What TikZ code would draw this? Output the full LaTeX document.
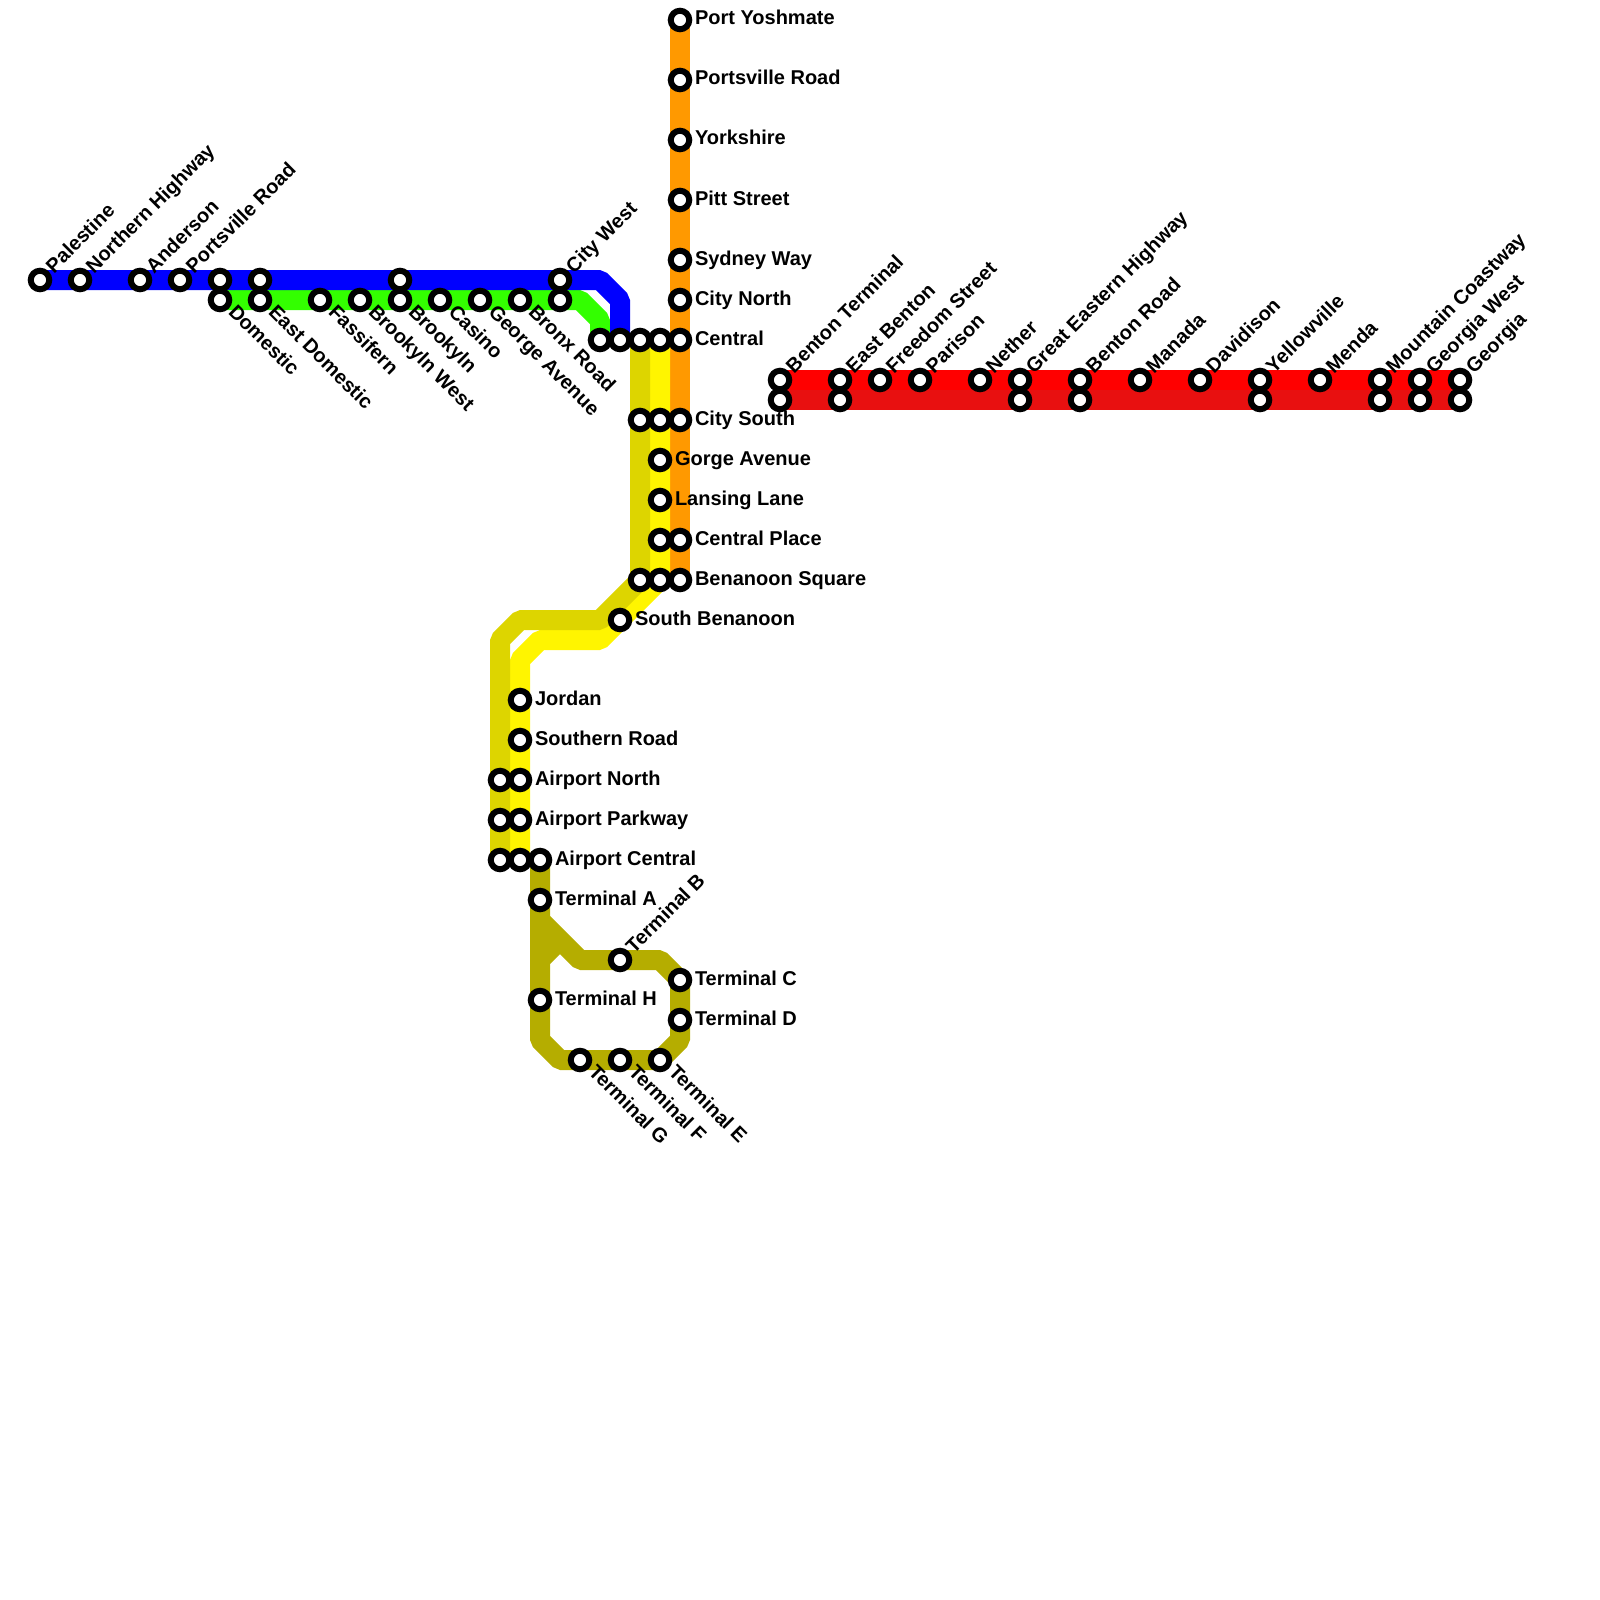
\documentclass[tikz,border=0pt]{standalone}
\usepackage{fontspec}
\setmainfont{Liberation Sans}
\usetikzlibrary{backgrounds}
\definecolor{lnblue}{HTML}{0000FF}
\definecolor{lngreen}{HTML}{33FF00}
\definecolor{lnorange}{HTML}{FF9900}
\definecolor{lnyellow}{HTML}{FFF500}
\definecolor{lndark}{HTML}{DDD500}
\definecolor{lnolive}{HTML}{B5AD00}
\definecolor{lnred}{HTML}{FF0000}
\definecolor{lnredb}{HTML}{E81010}
\pgfdeclarelayer{lines}
\pgfdeclarelayer{labels}
\pgfsetlayers{lines,main,labels}
\tikzset{
  x=1pt,y=-1pt,
  stn/.style={circle,draw=black,fill=white,line width=6pt,minimum size=18.5pt,inner sep=0pt,outer sep=0pt},
  lbl/.style={font=\bfseries\fontsize{20pt}{22pt}\selectfont,inner sep=0pt,outer sep=0pt,anchor=base west,text=black},
  lblE/.style={lbl},
  lblNE/.style={lbl,rotate=45},
  lblSE/.style={lbl,rotate=-45},
  metro/.style={line width=20pt,line join=bevel,line cap=butt},
}
\newcommand{\stnE}[4]{\node[stn] (#1) at (#2,#3) {};\begin{pgfonlayer}{labels}\node[lblE] (#1t) at ([xshift=15pt,yshift=-5pt]#1.center) {#4};\end{pgfonlayer}}
\newcommand{\stnNE}[4]{\node[stn] (#1) at (#2,#3) {};\begin{pgfonlayer}{labels}\node[lblNE] (#1t) at ([xshift=14pt,yshift=6pt]#1.center) {#4};\end{pgfonlayer}}
\newcommand{\stnSE}[4]{\node[stn] (#1) at (#2,#3) {};\begin{pgfonlayer}{labels}\node[lblSE] (#1t) at ([xshift=7.5pt,yshift=-13pt]#1.center) {#4};\end{pgfonlayer}}
\newcommand{\stnN}[3]{\node[stn] (#1) at (#2,#3) {};}
\begin{document}
\begin{tikzpicture}
\useasboundingbox (0,0) rectangle (1600,1600);
% blue
\stnNE{palestine}{40}{280}{Palestine}
\stnNE{northern}{80}{280}{Northern Highway}
\stnNE{anderson}{140}{280}{Anderson}
\stnNE{portsville}{180}{280}{Portsville Road}
\stnN{domA}{220}{280}
\stnN{edomA}{260}{280}
\stnN{brookA}{400}{280}
\stnNE{citywest}{560}{280}{City West}
% green
\stnSE{domestic}{220}{300}{Domestic}
\stnSE{edomestic}{260}{300}{East Domestic}
\stnSE{fassifern}{320}{300}{Fassifern}
\stnSE{brookwest}{360}{300}{Brookyln West}
\stnSE{brooklyn}{400}{300}{Brookyln}
\stnSE{casino}{440}{300}{Casino}
\stnSE{george}{480}{300}{George Avenue}
\stnSE{bronx}{520}{300}{Bronx Road}
\stnN{citywestB}{560}{300}
% central row
\stnN{cgreen}{600}{340}
\stnN{cblue}{620}{340}
\stnN{cdark}{640}{340}
\stnN{cyellow}{660}{340}
% orange
\stnE{yoshmate}{680}{20}{Port Yoshmate}
\stnE{portsvilleR}{680}{80}{Portsville Road}
\stnE{yorkshire}{680}{140}{Yorkshire}
\stnE{pitt}{680}{200}{Pitt Street}
\stnE{sydney}{680}{260}{Sydney Way}
\stnE{citynorth}{680}{300}{City North}
\stnE{central}{680}{340}{Central}
\stnE{citysouth}{680}{420}{City South}
\stnE{centralpl}{680}{540}{Central Place}
\stnE{benanoon}{680}{580}{Benanoon Square}
% yellow column
\stnN{csdark}{640}{420}
\stnN{csyellow}{660}{420}
\stnE{gorge}{660}{460}{Gorge Avenue}
\stnE{lansing}{660}{500}{Lansing Lane}
\stnN{cpyellow}{660}{540}
\stnN{bdark}{640}{580}
\stnN{byellow}{660}{580}
\stnE{southben}{620}{620}{South Benanoon}
% airport
\stnE{jordan}{520}{700}{Jordan}
\stnE{southern}{520}{740}{Southern Road}
\stnN{andark}{500}{780}
\stnE{airnorth}{520}{780}{Airport North}
\stnN{apdark}{500}{820}
\stnE{airpark}{520}{820}{Airport Parkway}
\stnN{acdark}{500}{860}
\stnN{acyellow}{520}{860}
\stnE{aircentral}{540}{860}{Airport Central}
\stnE{terma}{540}{900}{Terminal A}
\stnNE{termb}{620}{960}{Terminal B}
\stnE{termc}{680}{980}{Terminal C}
\stnE{termd}{680}{1020}{Terminal D}
\stnSE{terme}{660}{1060}{Terminal E}
\stnSE{termf}{620}{1060}{Terminal F}
\stnSE{termg}{580}{1060}{Terminal G}
\stnE{termh}{540}{1000}{Terminal H}
% red
\stnNE{bentonT}{780}{380}{Benton Terminal}
\stnN{bentonTb}{780}{400}
\stnNE{eastbenton}{840}{380}{East Benton}
\stnN{eastbentonb}{840}{400}
\stnNE{freedom}{880}{380}{Freedom Street}
\stnNE{parison}{920}{380}{Parison}
\stnNE{nether}{980}{380}{Nether}
\stnNE{greateast}{1020}{380}{Great Eastern Highway}
\stnN{greateastb}{1020}{400}
\stnNE{bentonR}{1080}{380}{Benton Road}
\stnN{bentonRb}{1080}{400}
\stnNE{manada}{1140}{380}{Manada}
\stnNE{davidson}{1200}{380}{Davidison}
\stnNE{yellowville}{1260}{380}{Yellowville}
\stnN{yellowvilleb}{1260}{400}
\stnNE{menda}{1320}{380}{Menda}
\stnNE{mountain}{1380}{380}{Mountain Coastway}
\stnN{mountainb}{1380}{400}
\stnNE{georgiaW}{1420}{380}{Georgia West}
\stnN{georgiaWb}{1420}{400}
\stnNE{georgia}{1460}{380}{Georgia}
\stnN{georgiab}{1460}{400}
% bend points
\coordinate (b1) at (600,280);
\coordinate (b2) at (620,300);
\coordinate (g1) at (580,300);
\coordinate (g2) at (600,320);
\coordinate (d2) at (600,620);
\coordinate (d3) at (520,620);
\coordinate (d4) at (500,640);
\coordinate (y1) at (600,640);
\coordinate (y2) at (540,640);
\coordinate (y3) at (520,660);
\coordinate (o1) at (540,920);
\coordinate (o2) at (580,960);
\coordinate (o3) at (660,960);
\coordinate (o4) at (680,1040);
\coordinate (o5) at (560,1060);
\coordinate (o6) at (540,1040);
\coordinate (o7) at (540,960);
\coordinate (o8) at (560,940);
\begin{pgfonlayer}{lines}
\draw[metro,lngreen] (domestic.center) -- (g1) -- (g2) -- (cgreen.center);
\draw[metro,lnblue] (palestine.center) -- (b1) -- (b2) -- (cblue.center);
\draw[metro,lnorange] (yoshmate.center) -- (benanoon.center);
\draw[metro,lnyellow] (cyellow.center) -- (byellow.center) -- (y1) -- (y2) -- (y3) -- (acyellow.center);
\draw[metro,lndark] (cdark.center) -- (bdark.center) -- (d2) -- (d3) -- (d4) -- (acdark.center);
\draw[metro,lnolive] (aircentral.center) -- (o1) -- (o2) -- (o3) -- (termc.center) -- (o4) -- (terme.center) -- (o5) -- (o6) -- (o7) -- (o8);
\draw[metro,lnolive] (aircentral.center) -- (terma.center) -- (termh.center) -- (o6);
\draw[metro,lnred] (bentonT.center) -- (georgia.center);
\draw[metro,lnredb] (bentonTb.center) -- (georgiab.center);
\end{pgfonlayer}
\end{tikzpicture}
\end{document}
